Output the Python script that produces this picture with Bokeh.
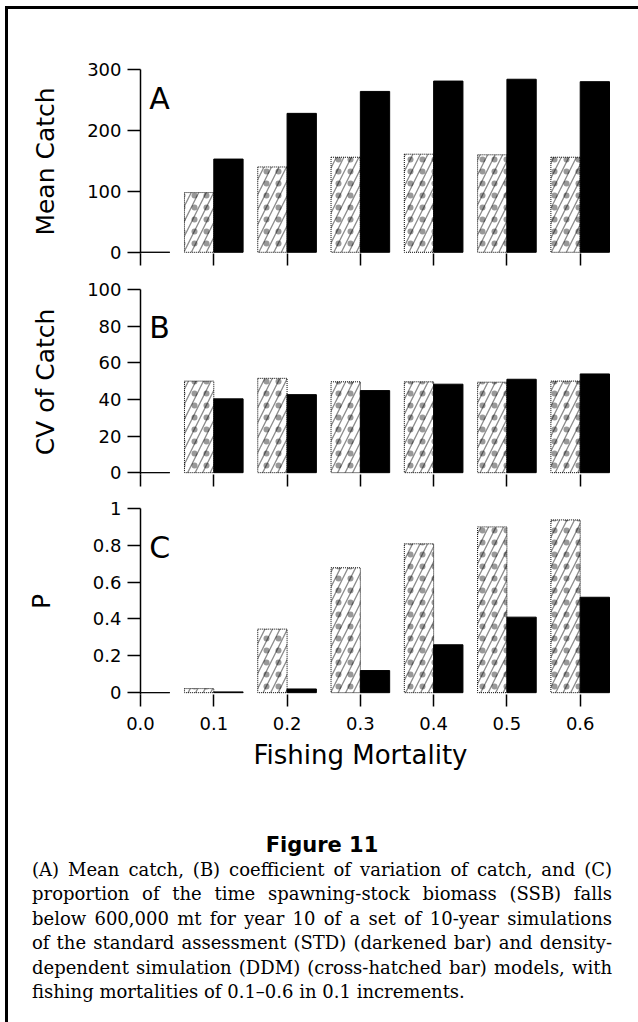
import numpy as np
from bokeh.plotting import figure
from bokeh.models import Range1d, FixedTicker, NumeralTickFormatter, Label, Title, Div
from bokeh.layouts import column, row
from bokeh.embed import file_html
from bokeh.resources import INLINE

# ---- data ----
fishing_mortality = [0.0, 0.1, 0.2, 0.3, 0.4, 0.5, 0.6]
catch_ddm = [0, 98, 140, 156, 161, 160, 156]
catch_std = [0, 153, 228, 264, 281, 284, 280]
cv_ddm = [0, 50.0, 51.5, 49.6, 49.6, 49.4, 50.0]
cv_std = [0, 40.3, 42.6, 44.8, 48.3, 51.0, 53.9]
p_ddm = [0, 0.022, 0.345, 0.678, 0.808, 0.90, 0.938]
p_std = [0, 0.004, 0.02, 0.12, 0.26, 0.41, 0.518]

x_ticks = [0.0, 0.1, 0.2, 0.3, 0.4, 0.5, 0.6]
catch_ticks = [0, 100, 200, 300]
cv_ticks = [0, 20, 40, 60, 80, 100]
p_ticks = [0, 0.2, 0.4, 0.6, 0.8, 1]

FONT = "DejaVu Sans"
BAR_W = 0.04
F = np.array(fishing_mortality)


def make_panel(ddm, std, y_start, y_end, ticks, ylabel, letter, letter_y,
               top, frame_h, bottom, show_x_labels, label_standoff=26):
    p = figure(width=630, height=top + frame_h + bottom,
               x_range=Range1d(0, 0.655), y_range=Range1d(y_start, y_end),
               output_backend="svg", toolbar_location=None,
               min_border_left=132, min_border_right=18,
               min_border_top=top, min_border_bottom=bottom)
    p.outline_line_color = None
    p.grid.visible = False
    p.background_fill_color = "white"
    p.border_fill_color = "white"

    # DDM (cross-hatched) bars
    p.vbar(x=F - BAR_W / 2, top=ddm, bottom=0, width=BAR_W,
           fill_color="white", line_color="black", line_width=1, line_dash="1 1",
           hatch_pattern="/", hatch_scale=15, hatch_weight=1.3,
           hatch_color="black", hatch_alpha=0.45)
    p.vbar(x=F - BAR_W / 2, top=ddm, bottom=0, width=BAR_W,
           fill_color=None, line_color=None,
           hatch_pattern=".", hatch_scale=12, hatch_weight=1,
           hatch_color="black", hatch_alpha=0.4)
    # STD (darkened) bars
    p.vbar(x=F + BAR_W / 2, top=std, bottom=0, width=BAR_W,
           fill_color="black", line_color="black", line_width=1)

    ya = p.yaxis[0]
    ya.ticker = FixedTicker(ticks=ticks)
    ya.formatter = NumeralTickFormatter(format="0.[0]")
    ya.axis_label = ylabel
    ya.axis_label_text_font = FONT
    ya.axis_label_text_font_size = "25px"
    ya.axis_label_text_font_style = "normal"
    ya.axis_label_text_color = "black"
    ya.axis_label_standoff = label_standoff
    ya.major_label_text_font = FONT
    ya.major_label_text_font_size = "18px"
    ya.major_label_text_color = "black"
    ya.major_label_standoff = 6
    ya.major_tick_in = 0
    ya.major_tick_out = 13
    ya.minor_tick_out = 0
    ya.minor_tick_in = 0
    ya.axis_line_width = 1.5
    ya.major_tick_line_width = 1.5

    xa = p.xaxis[0]
    xa.axis_line_color = None
    xa.major_label_text_font = FONT
    xa.major_label_text_color = "black"
    if show_x_labels:
        xa.ticker = FixedTicker(ticks=x_ticks)
        xa.formatter = NumeralTickFormatter(format="0.0")
        xa.major_tick_in = 0
        xa.major_tick_out = 12
        xa.major_tick_line_width = 1.5
        xa.minor_tick_in = 0
        xa.minor_tick_out = 0
        xa.major_label_text_font_size = "18px"
        xa.major_label_standoff = 10
    else:
        # tick marks only (no labels): the positions are used as minor ticks
        xa.ticker = FixedTicker(ticks=[], minor_ticks=x_ticks)
        xa.minor_tick_in = 0
        xa.minor_tick_out = 12
        xa.minor_tick_line_width = 1.5
        xa.minor_tick_line_color = "black"

    p.add_layout(Label(x=0.012, y=letter_y, text=letter, text_font=FONT,
                       text_font_size="30px", text_baseline="middle",
                       text_color="black"))
    return p


pa = make_panel(catch_ddm, catch_std, -2, 300, catch_ticks, "Mean Catch", "A", 252,
                top=60, frame_h=184, bottom=14, show_x_labels=False, label_standoff=24)
pb = make_panel(cv_ddm, cv_std, -1, 100, cv_ticks, "CV of Catch", "B", 79,
                top=22, frame_h=185, bottom=14, show_x_labels=False, label_standoff=24)
pc = make_panel(p_ddm, p_std, -0.01, 1, p_ticks, "P", "C", 0.79,
                top=20, frame_h=186, bottom=106, show_x_labels=True,
                label_standoff=34)
pc.add_layout(Title(text="Fishing Mortality", align="left", offset=113,
                    text_font=FONT, text_font_size="26px",
                    text_font_style="normal", text_color="black", standoff=11),
              "below")

caption_lines = [
    "(A) Mean catch, (B) coefficient of variation of catch, and (C)",
    "proportion of the time spawning-stock biomass (SSB) falls",
    "below 600,000 mt for year 10 of a set of 10-year simulations",
    "of the standard assessment (STD) (darkened bar) and density-",
    "dependent simulation (DDM) (cross-hatched bar) models, with",
    "fishing mortalities of 0.1\u20130.6 in 0.1 increments.",
]
line_html = ""
for i, ln in enumerate(caption_lines):
    last = "justify" if i < len(caption_lines) - 1 else "left"
    line_html += ("<div style='white-space:nowrap;text-align:justify;"
                  f"text-align-last:{last};'>{ln}</div>")
caption_html = (
    "<div style='margin-left:24px;width:580px;padding-top:32px;color:#000;'>"
    "<div style=\"font-family:'DejaVu Sans';font-weight:bold;font-size:21px;"
    "line-height:26px;text-align:center;\">Figure 11</div>"
    "<div style=\"font-family:'DejaVu Serif';font-size:18px;line-height:24.4px;\">"
    + line_html + "</div></div>"
)
caption = Div(text=caption_html, width=630, height=222, margin=0)

# page frame: a black rule along the top and down the left side
top_border = column(
    Div(width=638, height=6, margin=0),
    row(Div(width=5, height=3, margin=0),
        Div(width=633, height=3, margin=0, styles={"background-color": "#000"})),
)
left_border = row(
    Div(width=5, height=1013, margin=0),
    Div(width=3, height=1013, margin=0, styles={"background-color": "#000"}),
)

layout = column(top_border, row(left_border, column(pa, pb, pc, caption)))

open("out.html", "w").write(file_html(layout, INLINE))
